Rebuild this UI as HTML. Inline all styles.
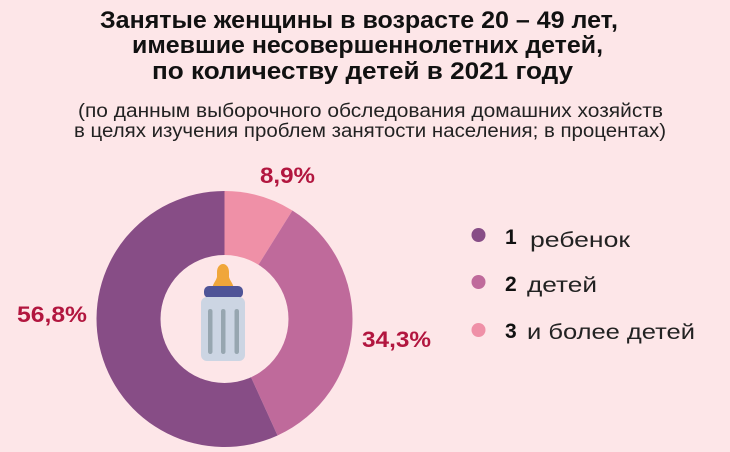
<!DOCTYPE html>
<html>
<head>
<meta charset="utf-8">
<style>
html,body{margin:0;padding:0;background:#fde6e8;}
svg{display:block;}
</style>
</head>
<body>
<svg width="730" height="452" viewBox="0 0 730 452" xmlns="http://www.w3.org/2000/svg">
<rect x="0" y="0" width="730" height="452" fill="#fde6e8"/>
<g font-family="'Liberation Sans', sans-serif" fill="#111">
<text x="100" y="28" font-size="24" font-weight="bold" textLength="518" lengthAdjust="spacingAndGlyphs">Занятые женщины в возрасте 20 – 49 лет,</text>
<text x="132" y="53" font-size="24" font-weight="bold" textLength="471" lengthAdjust="spacingAndGlyphs">имевшие несовершеннолетних детей,</text>
<text x="152" y="79" font-size="24" font-weight="bold" textLength="421" lengthAdjust="spacingAndGlyphs">по количеству детей в 2021 году</text>
<text x="78" y="117" font-size="19" fill="#222" textLength="585" lengthAdjust="spacingAndGlyphs">(по данным выборочного обследования домашних хозяйств</text>
<text x="74" y="137" font-size="19" fill="#222" textLength="592" lengthAdjust="spacingAndGlyphs">в целях изучения проблем занятости населения; в процентах)</text>
</g>
<!-- donut -->
<path d="M224.5,319 L224.5,191 A128,128 0 0 1 292.4,210.5 Z" fill="#ef90a7"/>
<path d="M224.5,319 L292.4,210.5 A128,128 0 0 1 277.54,435.5 Z" fill="#bf6a9b"/>
<path d="M224.5,319 L277.54,435.5 A128,128 0 1 1 224.5,191 Z" fill="#874d86"/>
<circle cx="224.5" cy="319" r="64" fill="#fde6e8"/>
<!-- bottle -->
<path d="M212,289 C213,283 216,281 217,277 L217,272 C217,267 220,264 223,264 C226,264 229,267 229,272 L229,277 C230,281 233,283 234,289 Z" fill="#f0a63a"/>
<rect x="204" y="286" width="39" height="12" rx="5" fill="#4f5497"/>
<rect x="201" y="297" width="44" height="64" rx="6" fill="#ccd5e3"/>
<rect x="208" y="309" width="4.5" height="45" rx="2.2" fill="#97a6b0"/>
<rect x="221" y="309" width="4.5" height="45" rx="2.2" fill="#97a6b0"/>
<rect x="234.5" y="309" width="4.5" height="45" rx="2.2" fill="#97a6b0"/>
<!-- labels -->
<g font-family="'Liberation Sans', sans-serif" font-weight="bold" font-size="22" fill="#b2163f">
<text x="260" y="183" textLength="55" lengthAdjust="spacingAndGlyphs">8,9%</text>
<text x="17" y="322" textLength="70" lengthAdjust="spacingAndGlyphs">56,8%</text>
<text x="362" y="347" textLength="69" lengthAdjust="spacingAndGlyphs">34,3%</text>
</g>
<!-- legend -->
<circle cx="478.5" cy="235" r="7" fill="#874d86"/>
<circle cx="478.5" cy="282" r="7" fill="#bf6a9b"/>
<circle cx="478.5" cy="330" r="7" fill="#ef90a7"/>
<g font-family="'Liberation Sans', sans-serif" fill="#111">
<text x="505" y="244" font-size="21" font-weight="bold">1</text>
<text x="530" y="247" font-size="21" fill="#222" textLength="100" lengthAdjust="spacingAndGlyphs">ребенок</text>
<text x="505" y="291" font-size="21" font-weight="bold">2</text>
<text x="527" y="292" font-size="21" fill="#222" textLength="70" lengthAdjust="spacingAndGlyphs">детей</text>
<text x="505" y="338" font-size="21" font-weight="bold">3</text>
<text x="527" y="339" font-size="21" fill="#222" textLength="168" lengthAdjust="spacingAndGlyphs">и более детей</text>
</g>
</svg>
</body>
</html>
